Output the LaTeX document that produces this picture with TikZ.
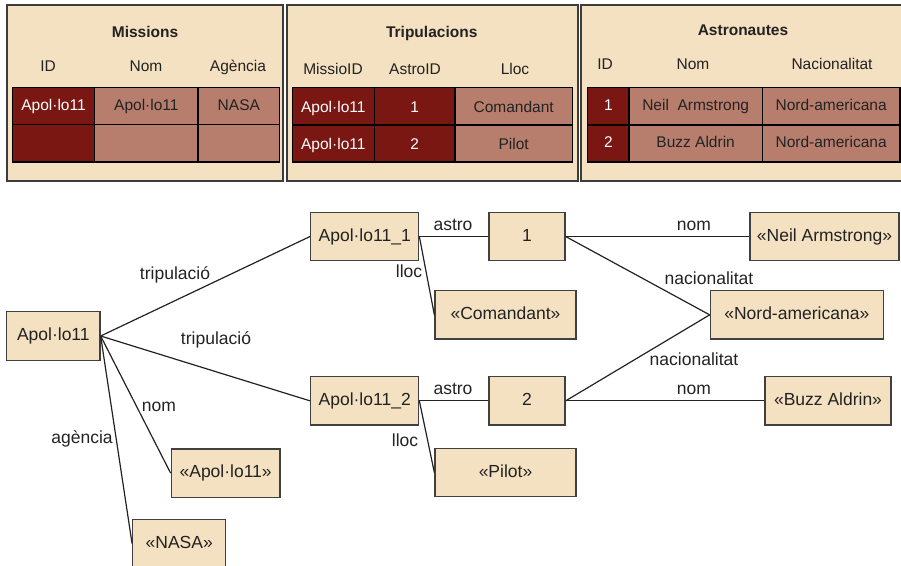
\documentclass[tikz,border=0pt]{standalone}
\usepackage{fontspec}
\setmainfont{Liberation Sans}
\definecolor{beige}{HTML}{F4E1C1}
\definecolor{darkred}{HTML}{7A1713}
\definecolor{lightred}{HTML}{B87E6D}
\definecolor{panelline}{HTML}{3C3C3C}
\definecolor{boxline}{HTML}{404040}
\definecolor{ink}{HTML}{222222}
\begin{document}
\begin{tikzpicture}[x=1pt,y=-1pt,
 panel/.style={draw=panelline, line width=1.8pt, fill=beige},
 box/.style={draw=boxline, line width=1.3pt, fill=beige, inner sep=0pt, minimum height=48.4pt, text height=12.5pt, text depth=3.5pt, font=\fontsize{17.5}{20}\selectfont, text=ink},
 lbl/.style={inner sep=0pt, text height=12.5pt, text depth=3.5pt, font=\fontsize{17.5}{20}\selectfont, text=ink},
 link/.style={draw=ink, line width=1.2pt},
 cellbase/.style={draw=black, line width=1.2pt, inner sep=0pt, text height=11pt, text depth=3pt, font=\fontsize{15.5}{18}\selectfont},
 dcell/.style={cellbase, fill=darkred, text=white},
 lcell/.style={cellbase, fill=lightred, text=ink},
 low/.style={text height=13pt, text depth=1pt},
 hdr/.style={inner sep=0pt, text height=11pt, text depth=3pt, font=\fontsize{15.5}{18}\selectfont, text=ink},
 ttl/.style={inner sep=0pt, text height=11pt, text depth=3pt, font=\bfseries\fontsize{15.5}{18}\selectfont, text=ink}]
\clip (0,0) rectangle (901,565);
% panels
\draw[panel] (7,5) rectangle (283,181);
\draw[panel] (287,5) rectangle (578,181);
\draw[panel] (581,5) rectangle (910,181);
% Missions
\node[ttl] (mt) at (145,33) {Missions};
\node[hdr] (mh1) at (48,67) {ID};
\node[hdr] (mh2) at (146,67) {Nom};
\node[hdr] (mh3) at (238,67) {Agència};
\node[dcell, minimum width=82.4pt, minimum height=37pt] (m11) at (53.5,106.2) {Apol·lo11};
\node[lcell, minimum width=103.3pt, minimum height=37pt] (m12) at (146.35,106.2) {Apol·lo11};
\node[lcell, minimum width=81.7pt, minimum height=37pt] (m13) at (238.85,106.2) {NASA};
\node[dcell, minimum width=82.4pt, minimum height=37.3pt] (m21) at (53.5,143.35) {};
\node[lcell, minimum width=103.3pt, minimum height=37.3pt] (m22) at (146.35,143.35) {};
\node[lcell, minimum width=81.7pt, minimum height=37.3pt] (m23) at (238.85,143.35) {};
% Tripulacions
\node[ttl] (tt) at (431.7,33) {Tripulacions};
\node[hdr] (th1) at (333,70) {MissioID};
\node[hdr] (th2) at (415,70) {AstroID};
\node[hdr] (th3) at (515,70) {Lloc};
\node[dcell, low, minimum width=82pt, minimum height=37.3pt] (t11) at (333.3,106.35) {Apol·lo11};
\node[dcell, low, minimum width=80.7pt, minimum height=37.3pt] (t12) at (414.65,106.35) {1};
\node[lcell, low, minimum width=117.3pt, minimum height=37.3pt] (t13) at (513.65,106.35) {Comandant};
\node[dcell, low, minimum width=82pt, minimum height=37pt] (t21) at (333.3,143.5) {Apol·lo11};
\node[dcell, low, minimum width=80.7pt, minimum height=37pt] (t22) at (414.65,143.5) {2};
\node[lcell, low, minimum width=117.3pt, minimum height=37pt] (t23) at (513.65,143.5) {Pilot};
% Astronautes
\node[ttl] (at) at (743,31) {Astronautes};
\node[hdr] (ah1) at (605,65) {ID};
\node[hdr] (ah2) at (693,65) {Nom};
\node[hdr] (ah3) at (832,65) {Nacionalitat};
\node[dcell, minimum width=41.3pt, minimum height=37.3pt] (a11) at (608.35,106.35) {1};
\node[lcell, minimum width=133.3pt, minimum height=37.3pt] (a12) at (695.65,106.35) {Neil\ \ Armstrong};
\node[lcell, minimum width=137.7pt, minimum height=37.3pt] (a13) at (831.15,106.35) {Nord-americana};
\node[dcell, minimum width=41.3pt, minimum height=37pt] (a21) at (608.35,143.5) {2};
\node[lcell, minimum width=133.3pt, minimum height=37pt] (a22) at (695.65,143.5) {Buzz Aldrin};
\node[lcell, minimum width=137.7pt, minimum height=37pt] (a23) at (831.15,143.5) {Nord-americana};
% graph nodes
\node[box, minimum width=93.3pt] (apo) at (53.35,336) {Apol·lo11};
\node[box, minimum width=108pt] (ap1) at (364.7,236.5) {Apol·lo11\_1};
\node[box, minimum width=108pt] (ap2) at (364.7,400.85) {Apol·lo11\_2};
\node[box, minimum width=76pt] (n1) at (527,236.5) {1};
\node[box, minimum width=76pt] (n2) at (527,400.85) {2};
\node[box, minimum width=108.7pt] (napo) at (225.65,473.15) {«Apol·lo11»};
\node[box, minimum width=93pt] (nasa) at (179.2,543.5) {«NASA»};
\node[box, minimum width=141pt] (com) at (505.5,314.85) {«Comandant»};
\node[box, minimum width=141pt] (pil) at (505.5,472.5) {«Pilot»};
\node[box, minimum width=149pt] (neil) at (824.5,236.5) {«Neil Armstrong»};
\node[box, minimum width=173pt] (nord) at (796.8,314.85) {«Nord-americana»};
\node[box, minimum width=126pt] (buzz) at (828,400.85) {«Buzz Aldrin»};
% connectors
\draw[link] (apo.east) -- (ap1.west);
\draw[link] (apo.east) -- (ap2.west);
\draw[link] (apo.east) -- (napo.west);
\draw[link] (apo.east) -- (nasa.west);
\draw[link] (ap1.east) -- (n1.west);
\draw[link] (ap1.east) -- (com.west);
\draw[link] (ap2.east) -- (n2.west);
\draw[link] (ap2.east) -- (pil.west);
\draw[link] (n1.east) -- (neil.west);
\draw[link] (n1.east) -- (nord.west);
\draw[link] (n2.east) -- (nord.west);
\draw[link] (n2.east) -- (buzz.west);
% labels
\node[lbl] (l1) at (175,275) {tripulació};
\node[lbl] (l2) at (216,340) {tripulació};
\node[lbl] (l3) at (159,407) {nom};
\node[lbl] (l4) at (82,439) {agència};
\node[lbl] (l5) at (453,226) {astro};
\node[lbl] (l6) at (409,273) {lloc};
\node[lbl] (l7) at (453,390) {astro};
\node[lbl] (l8) at (405,442) {lloc};
\node[lbl] (l9) at (694,226) {nom};
\node[lbl] (l10) at (709,280) {nacionalitat};
\node[lbl] (l11) at (694,361) {nacionalitat};
\node[lbl] (l12) at (694,390) {nom};
\end{tikzpicture}
\end{document}
